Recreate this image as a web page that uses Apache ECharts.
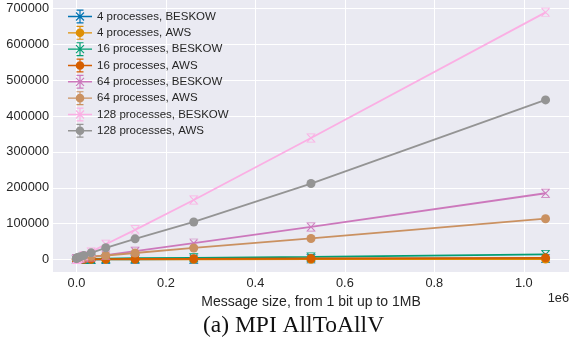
<!DOCTYPE html>
<html><head><meta charset="utf-8">
<script src="https://cdn.jsdelivr.net/npm/echarts@6/dist/echarts.min.js"></script>
<style>html,body{margin:0;padding:0;background:#fff}#c{width:570px;height:343px}</style>
</head><body><div id="c"></div>
<script>
// Message sizes (x)
const sizes = [1, 16, 256, 1024, 4096, 8192, 16384, 32768, 65536, 131072, 262144, 524288, 1048576];
// Series values (y)
const beskow4  = [100, 100, 110, 120, 150, 200, 260, 380, 600, 900, 1400, 2200, 3500];
const aws4     = [400, 400, 410, 420, 450, 480, 520, 580, 680, 800, 950, 1200, 1600];
const beskow16 = [300, 300, 350, 400, 600, 800, 1200, 2000, 3000, 4000, 5000, 7500, 14500];
const aws16    = [800, 800, 800, 850, 900, 1000, 1100, 1300, 1600, 1900, 2400, 3200, 5000];
const beskow64 = [1500, 1500, 1600, 1800, 2500, 3500, 5000, 7500, 12500, 23500, 46000, 91000, 185000];
const aws64    = [3000, 3000, 3100, 3300, 4000, 5000, 6500, 8500, 11500, 18500, 32500, 59000, 114000];
const beskow128= [400, 420, 600, 1100, 3000, 5600, 11000, 21500, 43000, 83000, 166000, 339000, 689000];
const aws128   = [4000, 4000, 4200, 4500, 6000, 8000, 11500, 19000, 33000, 58000, 105000, 212000, 445000];
// Tick labels
const xTicks = [0, 200000, 400000, 600000, 800000, 1000000];
const yTicks = [0, 100000, 200000, 300000, 400000, 500000, 600000, 700000];

const names = ['4 processes, BESKOW','4 processes, AWS','16 processes, BESKOW','16 processes, AWS',
               '64 processes, BESKOW','64 processes, AWS','128 processes, BESKOW','128 processes, AWS'];
const values = [beskow4, aws4, beskow16, aws16, beskow64, aws64, beskow128, aws128];
const colors = ['#0173b2','#de8f05','#029e73','#d55e00','#cc78bc','#ca9161','#fbafe4','#949494'];

const xSym = 'path://M0,0 H10 V0.8 H0 Z M0,9.2 H10 V10 H0 Z M0.6,1.4 L1.4,0.6 L9.4,8.6 L8.6,9.4 Z M8.6,0.6 L9.4,1.4 L1.4,9.4 L0.6,8.6 Z';
const base = 'M0,6.3 H24 V7.7 H0 Z M11.4,0 H12.6 V14 H11.4 Z M8.5,0 H15.5 V1.2 H8.5 Z M8.5,12.8 H15.5 V14 H8.5 Z ';
const iconO = 'path://' + base + 'M7.7,7 A4.3,4.3 0 1 1 16.3,7 A4.3,4.3 0 1 1 7.7,7 Z';
const iconX = 'path://' + base + 'M7.6,3.4 L8.4,2.6 L16.4,10.6 L15.6,11.4 Z M15.6,2.6 L16.4,3.4 L8.4,11.4 L7.6,10.6 Z';

const series = names.map((n, i) => ({
  name: n,
  type: 'line',
  data: sizes.map((s, j) => [s, values[i][j]]),
  symbol: i % 2 === 0 ? xSym : 'circle',
  symbolSize: 9,
  showSymbol: true,
  lineStyle: { width: 1.8, color: colors[i] },
  itemStyle: { color: colors[i] },
  animation: false,
  z: 2 + i
}));

const font = "'Liberation Sans', Arial, sans-serif";
const chart = echarts.init(document.getElementById('c'), null, { renderer: 'canvas' });
chart.setOption({
  animation: false,
  backgroundColor: '#ffffff',
  color: colors,
  grid: { left: 53, right: 1, top: 0, bottom: 71, show: true, backgroundColor: '#eaeaf2', borderWidth: 0 },
  legend: {
    orient: 'vertical', left: 63, top: 4.5,
    itemWidth: 24, itemHeight: 14, itemGap: 2.33,
    textStyle: { fontFamily: font, fontSize: 11.5, color: '#262626' },
    data: names.map((n, i) => ({ name: n, icon: i % 2 === 0 ? iconX : iconO })),
    selectedMode: false
  },
  xAxis: {
    type: 'value', min: -52428, max: 1101005,
    name: 'Message size, from 1 bit up to 1MB', nameLocation: 'middle', nameGap: 19,
    nameTextStyle: { fontFamily: font, fontSize: 14, color: '#262626' },
    axisLine: { show: false },
    axisTick: { show: false, customValues: xTicks },
    axisLabel: { customValues: xTicks, fontFamily: font, fontSize: 12.8, color: '#262626', margin: 5,
      formatter: v => (v / 1e6).toFixed(1) },
    splitLine: { show: true, lineStyle: { color: '#ffffff', width: 1 } }
  },
  yAxis: {
    type: 'value', min: -34450, max: 723450,
    axisLine: { show: false },
    axisTick: { show: false, customValues: yTicks },
    axisLabel: { customValues: yTicks, fontFamily: font, fontSize: 12.8, color: '#262626', margin: 4,
      formatter: v => String(Math.round(v)) },
    splitLine: { show: true, lineStyle: { color: '#ffffff', width: 1 } }
  },
  graphic: [
    { type: 'text', right: 1, top: 292, style: { text: '1e6', font: "12.8px 'Liberation Sans', Arial, sans-serif", fill: '#262626' } },
    { type: 'text', left: 203, top: 314, style: { text: '(a) MPI AllToAllV', font: "23.5px 'Liberation Serif', 'DejaVu Serif', serif", fill: '#111111' } }
  ],
  series: series
});
</script>
</body></html>
